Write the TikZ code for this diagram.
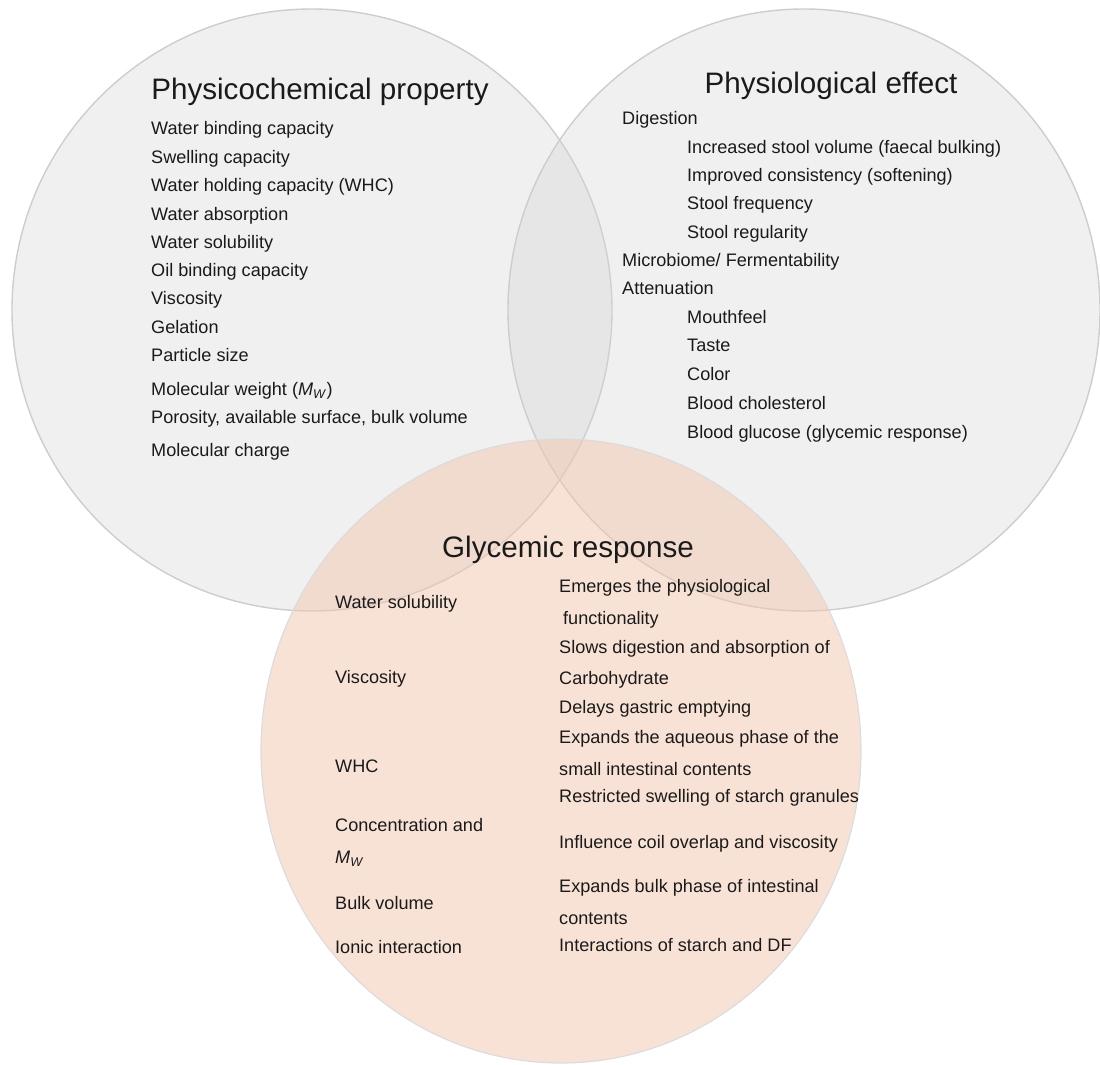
\documentclass[tikz,border=0pt]{standalone}
\usepackage{fontspec}
\setmainfont{Liberation Sans}
\usetikzlibrary{positioning}
\definecolor{ringgray}{HTML}{CDCDCD}
\definecolor{fillgray}{HTML}{D4D4D4}
\definecolor{peach}{HTML}{F2C6AE}
\definecolor{inkgray}{HTML}{1A1A1A}
\newcommand{\molw}{\textit{M}\textsubscript{\textit{W}}}

\begin{document}
\begin{tikzpicture}[x=1pt,y=-1pt,
  ring/.style={draw=ringgray,line width=1.4pt,fill=fillgray,fill opacity=0.35},
  peachring/.style={draw=ringgray!70,line width=1.2pt,fill=peach,fill opacity=0.5},
  heading/.style={anchor=mid,inner sep=0pt,text=inkgray,font=\fontsize{29.6}{32}\selectfont},
  item/.style={anchor=mid west,inner sep=0pt,text=inkgray,font=\fontsize{18.1}{20}\selectfont}]
  \useasboundingbox (0,0) rectangle (1100,1065);

  % the three sets
  \draw[ring] (312,310) ellipse [x radius=300,y radius=301];
  \draw[ring] (804,310) ellipse [x radius=296,y radius=301];
  \draw[peachring] (561,751) ellipse [x radius=300,y radius=312];

  % physicochemical property
  \node[heading] (pchead) at (320,97) {Physicochemical property};
  \node[item] (pc1) at (151,132) {Water binding capacity};
  \node[item] (pc2) at (151,161) {Swelling capacity};
  \node[item] (pc3) at (151,189) {Water holding capacity (WHC)};
  \node[item] (pc4) at (151,218) {Water absorption};
  \node[item] (pc5) at (151,246) {Water solubility};
  \node[item] (pc6) at (151,274) {Oil binding capacity};
  \node[item] (pc7) at (151,302) {Viscosity};
  \node[item] (pc8) at (151,331) {Gelation};
  \node[item] (pc9) at (151,359) {Particle size};
  \node[item] (pc10) at (151,393) {Molecular weight (\molw)};
  \node[item] (pc11) at (151,421) {Porosity, available surface, bulk volume};
  \node[item] (pc12) at (151,454) {Molecular charge};

  % physiological effect
  \node[heading] (pehead) at (831,91) {Physiological effect};
  \node[item] (pe1) at (622,122) {Digestion};
  \node[item] (pe2) at (687,151) {Increased stool volume (faecal bulking)};
  \node[item] (pe3) at (687,179) {Improved consistency (softening)};
  \node[item] (pe4) at (687,207) {Stool frequency};
  \node[item] (pe5) at (687,236) {Stool regularity};
  \node[item] (pe6) at (622,264) {Microbiome/ Fermentability};
  \node[item] (pe7) at (622,292) {Attenuation};
  \node[item] (pe8) at (687,321) {Mouthfeel};
  \node[item] (pe9) at (687,349) {Taste};
  \node[item] (pe10) at (687,378) {Color};
  \node[item] (pe11) at (687,407) {Blood cholesterol};
  \node[item] (pe12) at (687,436) {Blood glucose (glycemic response)};

  % glycemic response
  \node[heading] (grhead) at (568,555) {Glycemic response};
  \node[item] (gr1) at (335,606) {Water solubility};
  \node[item] (gr2) at (335,681) {Viscosity};
  \node[item] (gr3) at (335,770) {WHC};
  \node[item] (gr4) at (335,829) {Concentration and};
  \node[item] (gr5) at (335,861) {\molw};
  \node[item] (gr6) at (335,907) {Bulk volume};
  \node[item] (gr7) at (335,951) {Ionic interaction};
  \node[item] (ef1) at (559,590) {Emerges the physiological};
  \node[item] (ef2) at (563,622) {functionality};
  \node[item] (ef3) at (559,651) {Slows digestion and absorption of};
  \node[item] (ef4) at (559,682) {Carbohydrate};
  \node[item] (ef5) at (559,711) {Delays gastric emptying};
  \node[item] (ef6) at (559,741) {Expands the aqueous phase of the};
  \node[item] (ef7) at (559,773) {small intestinal contents};
  \node[item] (ef8) at (559,800) {Restricted swelling of starch granules};
  \node[item] (ef9) at (559,846) {Influence coil overlap and viscosity};
  \node[item] (ef10) at (559,890) {Expands bulk phase of intestinal};
  \node[item] (ef11) at (559,922) {contents};
  \node[item] (ef12) at (559,949) {Interactions of starch and DF};
\end{tikzpicture}
\end{document}
